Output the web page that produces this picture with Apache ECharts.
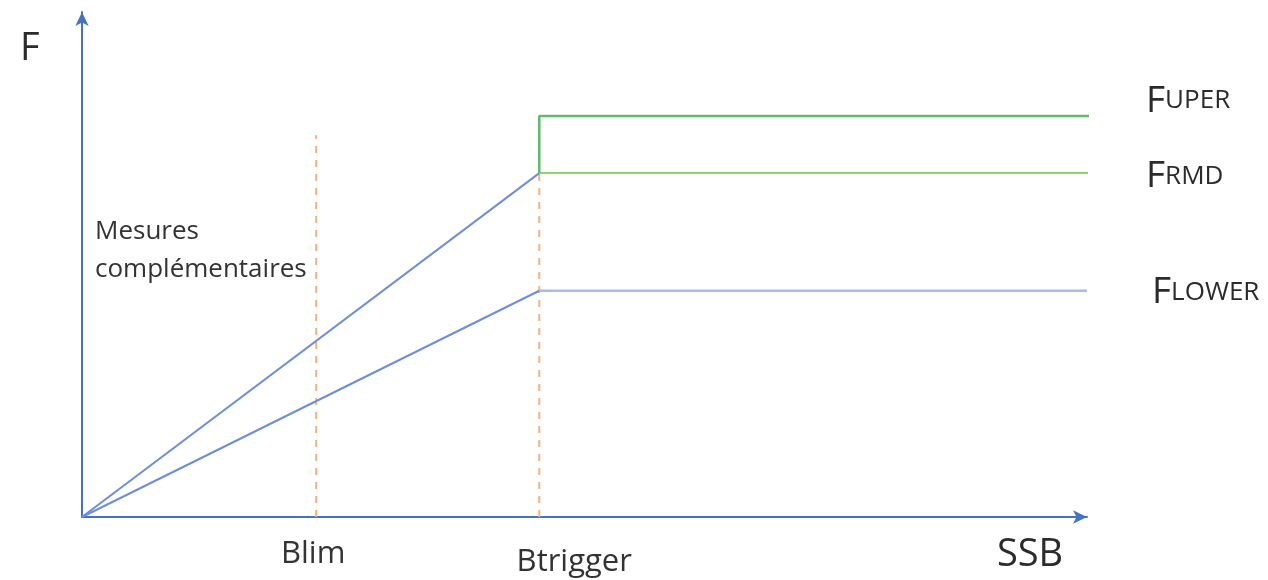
<!DOCTYPE html>
<html><head><meta charset="utf-8">
<script src="https://cdn.jsdelivr.net/npm/echarts@6/dist/echarts.min.js"></script>
<style>html,body{margin:0;padding:0;background:#fff}#c{width:1268px;height:580px}</style>
</head><body><div id="c"></div>
<script>
// SSB positions (0-100 scale) and F levels (0-100 scale)
const refPoints = { Blim: 23.3, Btrigger: 45.5 };
const xEnd = 100.3;
const F_UPER = 79.4;
const F_RMD = 68.1;
const F_LOWER = 44.8;
const blimTop = 75.6;

const rmdSlope = [[0, 0], [refPoints.Btrigger, F_RMD]];
const rmdFlat = [[refPoints.Btrigger, F_RMD], [xEnd, F_RMD]];
const uperLine = [[refPoints.Btrigger, F_RMD], [refPoints.Btrigger, F_UPER], [xEnd, F_UPER]];
const lowerSlope = [[0, 0], [refPoints.Btrigger, F_LOWER]];
const lowerFlat = [[refPoints.Btrigger, F_LOWER], [xEnd - 0.3, F_LOWER]];
const blimDash = [[refPoints.Blim, 0], [refPoints.Blim, blimTop]];
const btrigDash = [[refPoints.Btrigger, 0], [refPoints.Btrigger, F_RMD]];

const chart = echarts.init(document.getElementById('c'));
const font = '"Open Sans", "Liberation Sans", sans-serif';
function line(data, color, width, type) {
  return { type: 'line', data, symbol: 'none', clip: false, animation: false,
    lineStyle: { color, width, type: type || 'solid' }, z: 3 };
}
chart.setOption({
  animation: false,
  grid: { left: 82, right: 181, top: 12, bottom: 63 },
  xAxis: { type: 'value', min: 0, max: 100, axisLine: { lineStyle: { color: '#4472C4', width: 2 }, symbol: ['none', 'arrow'], symbolSize: [10, 14] },
    axisTick: { show: false }, axisLabel: { show: false }, splitLine: { show: false } },
  yAxis: { type: 'value', min: 0, max: 100, axisLine: { show: true, lineStyle: { color: '#4472C4', width: 2 }, symbol: ['none', 'arrow'], symbolSize: [10, 14] },
    axisTick: { show: false }, axisLabel: { show: false }, splitLine: { show: false } },
  series: [
    line(blimDash, '#F4B183', 2, [7, 7]),
    line(btrigDash, '#F4B183', 2, [7, 7]),
    line(rmdSlope, '#6E8FD8', 2),
    line(lowerSlope, '#6E8FD8', 2),
    line(rmdFlat, '#92D36E', 2),
    line(uperLine, '#5DBB6B', 2.5),
    line(lowerFlat, '#A7BDE9', 2.5)
  ]
});

const px = (x, y) => chart.convertToPixel({ gridIndex: 0 }, [x, y]);
const bl = px(refPoints.Blim, 0), bt = px(refPoints.Btrigger, 0);
const pu = px(xEnd, F_UPER), pr = px(xEnd, F_RMD), pl = px(xEnd, F_LOWER);
const rich = { big: { fontSize: 37, fontFamily: font, fill: '#2b2b2b' }, sm: { fontSize: 26, fontFamily: font, fill: '#2b2b2b' } };
function capText(x, y, big, small) {
  return { type: 'text', x, y, style: { text: '{big|' + big + '}{sm|' + small + '}', rich, fill: '#2b2b2b', verticalAlign: 'middle', align: 'left' } };
}
chart.setOption({
  graphic: [
    { type: 'text', x: 20, y: 49, style: { text: 'F', fontSize: 38, fontFamily: font, fill: '#2b2b2b', verticalAlign: 'middle' } },
    { type: 'text', x: 1030, y: 555, style: { text: 'SSB', fontSize: 38, fontFamily: font, fill: '#2b2b2b', align: 'center', verticalAlign: 'middle' } },
    { type: 'text', x: bl[0] - 3, y: 554, style: { text: 'Blim', fontSize: 31, fontFamily: font, fill: '#333', align: 'center', verticalAlign: 'middle' } },
    { type: 'text', x: bt[0] + 35, y: 562, style: { text: 'Btrigger', fontSize: 31, fontFamily: font, fill: '#333', align: 'center', verticalAlign: 'middle' } },
    { type: 'text', x: 95, y: 213, style: { text: 'Mesures\ncomplémentaires', fontSize: 26, lineHeight: 38, fontFamily: font, fill: '#333', verticalAlign: 'top' } },
    capText(pu[0] + 56, pu[1] - 15, 'F', 'UPER'),
    capText(pr[0] + 56, pr[1] + 3, 'F', 'RMD'),
    capText(pl[0] + 62, pl[1] + 2, 'F', 'LOWER')
  ]
});
</script></body></html>
